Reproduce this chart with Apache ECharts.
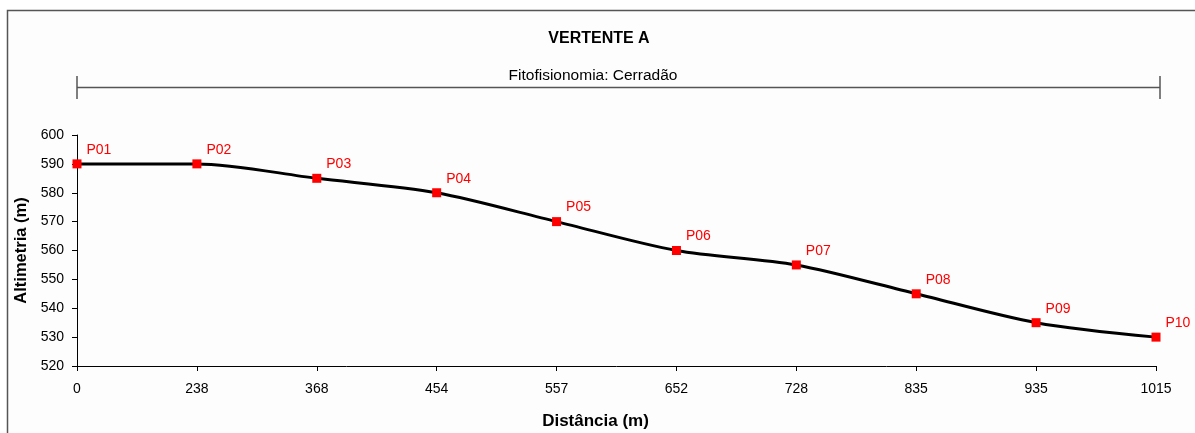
<!DOCTYPE html>
<html><head><meta charset="utf-8">
<script src="https://cdn.jsdelivr.net/npm/echarts@6/dist/echarts.min.js"></script>
<style>html,body{margin:0;padding:0;background:#fff}#c{width:1195px;height:433px}</style>
</head><body><div id="c"></div>
<script>
const distances = ['0','238','368','454','557','652','728','835','935','1015'];
const altitudes = [590,590,585,580,570,560,555,545,535,530];
const pointNames = ['P01','P02','P03','P04','P05','P06','P07','P08','P09','P10'];
const yTicks = {min:520, max:600, interval:10};
const F = 'Liberation Sans, Arial, sans-serif';

const chart = echarts.init(document.getElementById('c'));
chart.setOption({
  animation:false,
  backgroundColor:'#fff',
  textStyle:{fontFamily:F},
  title:[
    {text:'VERTENTE A', left:594, top:26, textAlign:'center', textStyle:{fontFamily:F,fontSize:16,fontWeight:'bold',color:'#000'}},
    {text:'Fitofisionomia: Cerradão', left:588, top:63, textAlign:'center', textStyle:{fontFamily:F,fontSize:15.5,fontWeight:'normal',color:'#000'}}
  ],
  grid:{left:77,right:39,top:135,bottom:67,containLabel:false,outerBoundsMode:'none'},
  xAxis:{
    type:'category', data:distances, boundaryGap:false,
    name:'Distância (m)', nameLocation:'middle', nameGap:47,
    nameTextStyle:{fontFamily:F,fontSize:17,fontWeight:'bold',color:'#000',padding:[0,42,0,0]},
    axisLine:{lineStyle:{color:'#000',width:1}},
    axisTick:{show:true,alignWithLabel:true,length:5,lineStyle:{color:'#000'}},
    axisLabel:{color:'#000',fontSize:14,fontFamily:F,margin:16},
    splitLine:{show:false}
  },
  yAxis:{
    type:'value', min:yTicks.min, max:yTicks.max, interval:yTicks.interval,
    name:'Altimetria (m)', nameLocation:'middle', nameGap:44,
    nameTextStyle:{fontFamily:F,fontSize:16.5,fontWeight:'bold',color:'#000'},
    axisLine:{show:true,lineStyle:{color:'#000',width:1}},
    axisTick:{show:true,length:5,lineStyle:{color:'#000'}},
    axisLabel:{color:'#000',fontSize:14,fontFamily:F,margin:13},
    splitLine:{show:false}
  },
  series:[{
    type:'line', smooth:0.3,
    data:altitudes.map((v,i)=>({value:v,name:pointNames[i]})),
    lineStyle:{color:'#000',width:3},
    symbol:'rect', symbolSize:9,
    itemStyle:{color:'#ff0000'},
    label:{show:true, position:'right', offset:[0,-14], formatter:p=>p.name,
      color:'#ff0000', fontSize:14, fontFamily:F}
  }]
});

// decorative frame and bracket aligned to the x axis
const x0 = chart.convertToPixel({xAxisIndex:0}, distances[0]);
const x1 = chart.convertToPixel({xAxisIndex:0}, distances[distances.length-1]) + 4;
chart.setOption({graphic:[
  {type:'rect', shape:{x:7.5,y:10.5,width:1200,height:440}, style:{fill:'#fdfdfd',stroke:'#555',lineWidth:1.5}, z:-10},
  {type:'line', shape:{x1:x0,y1:87.5,x2:x1,y2:87.5}, style:{stroke:'#555',lineWidth:1.5}},
  {type:'line', shape:{x1:x0,y1:76,x2:x0,y2:99}, style:{stroke:'#555',lineWidth:1.5}},
  {type:'line', shape:{x1:x1,y1:76,x2:x1,y2:99}, style:{stroke:'#555',lineWidth:1.5}}
]});
</script></body></html>
